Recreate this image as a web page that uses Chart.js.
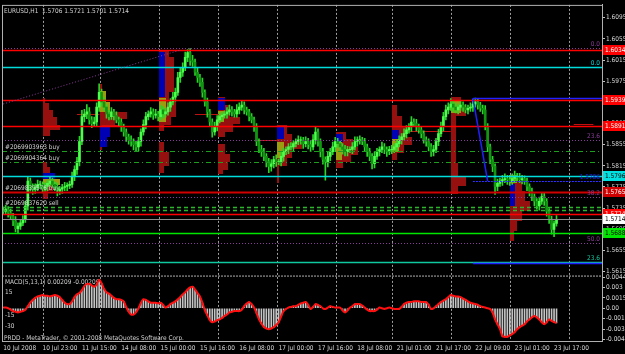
<!DOCTYPE html>
<html lang="en">
<head>
<meta charset="UTF-8">
<title>EURUSD,H1</title>
<script src="https://cdn.jsdelivr.net/npm/chart.js"></script>
<style>
  html, body { margin: 0; padding: 0; background: #000; }
  #chart { display: block; background: #000; }
</style>
</head>
<body>
<canvas id="chart" width="625" height="354"></canvas>
<script>
// ---- data ----
const barCount = 244;          // hourly slots across the window
const tickEvery = 16;
const timeLabels = ['10 Jul 2008', '10 Jul 23:00', '11 Jul 15:00', '14 Jul 08:00', '15 Jul 00:00',
  '15 Jul 16:00', '16 Jul 08:00', '17 Jul 00:00', '17 Jul 16:00', '18 Jul 08:00',
  '21 Jul 01:00', '21 Jul 17:00', '22 Jul 09:00', '23 Jul 01:00', '23 Jul 17:00'];

const firstOpen = 1.5731;
const closes = [
  1.5729, 1.5733, 1.5726, 1.5720, 1.5711, 1.5696, 1.5701, 1.5707, 1.5714, 1.5739,
  1.5786, 1.5776, 1.5771, 1.5774, 1.5780, 1.5780, 1.5773, 1.5776, 1.5782, 1.5786,
  1.5780, 1.5776, 1.5767, 1.5771, 1.5774, 1.5776, 1.5778, 1.5780, 1.5795, 1.5808,
  1.5823, 1.5861, 1.5908, 1.5913, 1.5917, 1.5902, 1.5895, 1.5898, 1.5926, 1.5954,
  1.5936, 1.5926, 1.5913, 1.5908, 1.5917, 1.5910, 1.5902, 1.5898, 1.5889, 1.5879,
  1.5870, 1.5864, 1.5861, 1.5855, 1.5851, 1.5861, 1.5879, 1.5893, 1.5908, 1.5913,
  1.5917, 1.5911, 1.5913, 1.5908, 1.5921, 1.5913, 1.5917, 1.5926, 1.5936, 1.5945,
  1.5954, 1.5982, 1.5992, 1.6001, 1.6020, 1.6029, 1.6014, 1.6011, 1.5992, 1.5982,
  1.5973, 1.5954, 1.5936, 1.5917, 1.5898, 1.5879, 1.5889, 1.5902, 1.5908, 1.5911,
  1.5913, 1.5917, 1.5921, 1.5917, 1.5913, 1.5921, 1.5926, 1.5930, 1.5921, 1.5917,
  1.5908, 1.5902, 1.5889, 1.5861, 1.5846, 1.5842, 1.5833, 1.5823, 1.5814, 1.5819,
  1.5827, 1.5823, 1.5823, 1.5833, 1.5842, 1.5846, 1.5851, 1.5851, 1.5857, 1.5861,
  1.5864, 1.5864, 1.5857, 1.5861, 1.5855, 1.5851, 1.5864, 1.5879, 1.5861, 1.5842,
  1.5827, 1.5823, 1.5833, 1.5842, 1.5851, 1.5861, 1.5857, 1.5851, 1.5846, 1.5842,
  1.5846, 1.5846, 1.5851, 1.5861, 1.5864, 1.5864, 1.5861, 1.5851, 1.5842, 1.5833,
  1.5819, 1.5833, 1.5842, 1.5846, 1.5851, 1.5846, 1.5842, 1.5846, 1.5846, 1.5851,
  1.5857, 1.5864, 1.5870, 1.5876, 1.5883, 1.5889, 1.5898, 1.5895, 1.5889, 1.5883,
  1.5876, 1.5864, 1.5861, 1.5851, 1.5842, 1.5846, 1.5861, 1.5876, 1.5889, 1.5908,
  1.5921, 1.5926, 1.5932, 1.5926, 1.5921, 1.5926, 1.5930, 1.5926, 1.5921, 1.5924,
  1.5926, 1.5932, 1.5936, 1.5930, 1.5924, 1.5921, 1.5889, 1.5851, 1.5827, 1.5814,
  1.5776, 1.5782, 1.5786, 1.5789, 1.5791, 1.5789, 1.5786, 1.5791, 1.5795, 1.5793,
  1.5789, 1.5791, 1.5786, 1.5776, 1.5767, 1.5757, 1.5748, 1.5739, 1.5748, 1.5757,
  1.5748, 1.5729, 1.5714, 1.5695, 1.5706, 1.5714
];
// wick length beyond the candle body, in pips
const upWick = [
  6,8,5,7,5,8,6,5,7,9, 9,6,5,7,8,6,5,7,5,8, 6,5,7,5,6,8,5,6,8,7, 8,10,12,9,14,8,6,9,8,16,
  6,8,5,7,8,5,7,5,6,5, 6,5,8,5,7,8,6,9,8,6, 8,6,9,5,8,6,7,8,6,9, 8,10,8,9,10,6,8,10,6,8,
  6,8,5,7,5,6,9,8,6,5, 6,8,9,6,5,10,8,9,6,5, 5,6,5,6,5,8,6,5,6,8, 6,9,5,8,6,5,6,8,6,5,
  8,6,5,9,6,8,10,10,6,5, 6,5,8,6,9,8,6,5,6,8, 6,5,8,9,6,8,5,6,5,6, 5,8,6,5,9,6,5,6,8,6,
  6,8,6,9,8,6,10,6,8,5, 6,5,6,5,6,8,6,8,9,8, 9,8,10,6,8,6,8,6,5,6, 8,9,7,6,5,6,8,6,5,6,
  5,8,6,8,9,6,8,9,10,6, 8,6,5,6,5,6,5,5,8,6, 6,5,5,6,5,7
];
const downWick = [
  6,5,8,6,9,6,8,6,5,6, 8,9,10,8,6,8,9,6,8,5, 6,8,9,6,8,6,8,6,6,8, 9,8,6,10,9,8,8,6,9,8,
  8,6,8,6,5,8,6,8,9,8, 9,8,9,10,8,8,9,6,8,6, 6,8,6,8,6,8,6,6,8,6, 8,6,9,8,6,8,9,8,6,9,
  8,9,8,10,8,10,6,8,6,8, 6,8,6,8,6,6,8,6,8,6, 8,6,9,8,6,9,8,10,12,9, 8,9,6,8,9,6,8,6,8,6,
  6,8,9,6,8,9,6,8,9,10, 9,35,10,8,6,9,8,6,9,8, 8,6,8,6,9,8,6,8,9,8, 10,8,6,8,6,8,9,6,8,6,
  8,6,8,6,8,6,9,6,8,6, 8,6,9,8,9,8,6,8,6,8, 6,8,6,8,6,8,6,8,6,8, 6,8,6,8,6,8,6,9,8,10,
  15,8,6,8,6,9,8,6,8,6, 6,8,6,8,9,8,9,6,8,6, 8,9,8,9,14,5
];
const pip = 0.0001;

// MACD(5,13,1) in units of 0.0001 (signal period 1, so line == histogram)
const macdValues = [
  1,1,0,-2,-4,-5,-6,-5,-4,-2, 3,8,12,15,17,18,19,18,18,17, 18,19,18,16,12,8,6,6,10,16,
  20,22,26,32,35,35,33,31,34,41, 36,28,23,21,18,15,13,13,12,10, 2,-5,-9,-9,-6,0,8,13,12,10,
  8,8,8,7,8,5,1,3,6,8, 10,13,16,20,23,27,30,31,27,22, 17,8,-3,-10,-17,-20,-19,-17,-16,-14,
  -11,-9,-6,-5,-4,-4,-4,-2,3,7, 9,6,1,-7,-16,-22,-27,-29,-30,-29, -27,-24,-20,-12,-4,-1,1,2,3,3,
  5,7,8,9,5,-1,2,6,5,3, 0,-1,1,3,2,1,1,1,-3,-6, -3,1,3,6,6,6,4,1,-2,-4,
  -4,-4,-2,1,0,-1,0,1,0,-1, -1,-1,2,6,8,9,9,10,10,10, 9,9,9,5,-1,0,3,6,9,11,
  13,16,19,18,17,17,16,14,12,10, 8,7,6,5,3,2,1,0,-1,-6, -16,-23,-30,-40,-41,-41,-39,-37,-34,-30,
  -27,-25,-23,-19,-16,-13,-11,-13,-16,-20, -23,-20,-16,-18,-20,-21
];
const macdUnit = 0.0001;

const priceTicks = [1.5615, 1.5655, 1.5695, 1.5735, 1.5775, 1.5815, 1.5855, 1.5895, 1.5935, 1.5975, 1.6015, 1.6055, 1.6095];
const priceMin = 1.56075, priceMax = 1.61194;
const macdTicks = [-0.00445, -0.003, -0.0015, 0, 0.0015, 0.003, 0.00445];
const macdTickText = ['-0.00445', '-0.003', '-0.0015', '0.00', '0.0015', '0.003', '0.00445'];

// separators of the terminal grid (bar positions)
const gridBars = [16.2, 39.4, 63.4, 87.3, 111.3, 135.3, 158.1, 182.1, 206.1, 230.1];

// horizontal objects: price, kind, first bar
const levelPrices = [1.6037, 1.6034, 1.6001, 1.5943, 1.5939, 1.5891, 1.5864, 1.5844, 1.5823, 1.5796,
  1.5786, 1.5765, 1.5756, 1.5738, 1.5732, 1.5724, 1.5714, 1.5688, 1.5669, 1.5634, 1.5631];
const levelKinds = ['fib', 'red', 'cyan', 'blue', 'red', 'red', 'fib', 'order', 'order', 'cyan',
  'blueDot', 'darkred', 'fib', 'stop', 'stop', 'red', 'bid', 'lime', 'fib', 'teal', 'blue'];
const levelStart = [0, 0, 0, 191, 0, 0, 0, 0, 0, 0, 191, 0, 0, 0, 0, 0, 0, 0, 0, 0, 191];

// sloped objects: [bar, price, bar, price]
const trendLines = [[0, 1.5932, 72, 1.6034], [191, 1.5943, 197, 1.5786]];
const trendKinds = ['fib', 'blue'];

// short point-of-control marks of the profiles: [bar from, bar to, price]
const pocMarks = [[30, 39, 1.5913], [40, 48, 1.5893], [78, 88, 1.5913], [102, 112, 1.5864], [165, 182, 1.5880], [232, 240, 1.5895]];

const priceTags = [1.6034, 1.5939, 1.5891, 1.5796, 1.5765, 1.5724, 1.5714, 1.5688];
const tagKinds = ['red', 'red', 'red', 'cyan', 'darkred', 'red', 'bid', 'lime'];

const fibTexts = ['0.0', '0.0', '23.6', '1.5786', '38.2', '50.0', '23.6'];
const fibPrices = [1.6037, 1.6001, 1.5864, 1.5786, 1.5756, 1.5669, 1.5634];
const fibKinds = ['fib', 'cyan', 'fib', 'blue', 'fib', 'fib', 'teal'];

const orderTexts = ['#2069903963 buy', '#2069904364 buy', '#2069839576 buy', '#2069837620 sell'];
const orderPrices = [1.5844, 1.5823, 1.5765, 1.5738];

// daily market profiles: anchor bar + rows [high, low, length in bars, zone]
const profileAnchors = [16.2, 39.4, 63.4, 87.3, 111.3, 135.3, 158.1, 182.1, 206.1];
const profileRows = [
  [[1.5943,1.5934,1,0],[1.5934,1.5921,2.5,0],[1.5921,1.5908,4,0],[1.5908,1.5893,5.5,0],[1.5893,1.5882,7,0],[1.5882,1.5871,3,0],
   [1.5823,1.5812,1.5,0],[1.5812,1.5801,3,0],[1.5801,1.5790,5,1],[1.5790,1.5778,7,2],[1.5778,1.5767,4,0],[1.5767,1.5752,2,0]],
  [[1.5970,1.5957,1,0],[1.5957,1.5936,2.5,2],[1.5936,1.5917,4,2],[1.5917,1.5904,11,0],[1.5904,1.5889,6,0],[1.5889,1.5870,4,1],[1.5870,1.5851,3,1],[1.5851,1.5845,1,0]],
  [[1.6035,1.6020,4,0],[1.6020,1.5992,6,0],[1.5992,1.5954,6,0],[1.5954,1.5936,4,0],[1.5936,1.5908,7,0],[1.5908,1.5893,5,0],[1.5893,1.5880,2,0],
   [1.6030,1.5945,2.5,1],[1.5943,1.5898,3,2],[1.5861,1.5842,2,0],[1.5842,1.5814,4,0],[1.5814,1.5801,2,0]],
  [[1.5945,1.5930,3,0],[1.5930,1.5908,5,0],[1.5908,1.5895,9,0],[1.5895,1.5879,6,0],[1.5879,1.5870,3,0],[1.5943,1.5921,3,1],[1.5919,1.5898,2.5,2],
   [1.5857,1.5838,3,0],[1.5838,1.5823,5,0],[1.5823,1.5808,4,0],[1.5808,1.5799,2,0]],
  [[1.5893,1.5876,4,0],[1.5876,1.5861,6,0],[1.5861,1.5846,10,0],[1.5846,1.5830,6,0],[1.5830,1.5814,4,0],[1.5814,1.5782,1,0],[1.5889,1.5866,3,1],[1.5861,1.5830,3,2]],
  [[1.5879,1.5866,4,0],[1.5866,1.5851,7,0],[1.5851,1.5836,9,0],[1.5836,1.5823,6,0],[1.5823,1.5810,3,0],[1.5876,1.5861,3,1],[1.5861,1.5827,2.5,2]],
  [[1.5930,1.5910,2,0],[1.5910,1.5889,4,0],[1.5889,1.5870,6,0],[1.5870,1.5855,8,0],[1.5855,1.5840,5,0],[1.5840,1.5827,2,0],[1.5883,1.5866,3,1],[1.5866,1.5842,3,2]],
  [[1.5945,1.5930,4,0],[1.5930,1.5910,6,0],[1.5910,1.5880,2,0],[1.5880,1.5820,2,0],[1.5820,1.5795,3,0],[1.5795,1.5776,6,0],[1.5776,1.5762,3,0],[1.5940,1.5915,4,2]],
  [[1.5797,1.5786,3,0],[1.5786,1.5767,5,0],[1.5767,1.5748,6,0],[1.5748,1.5729,8,0],[1.5729,1.5711,5,0],[1.5711,1.5692,3,0],[1.5692,1.5673,1.5,0],[1.5780,1.5740,2,1],[1.5797,1.5782,3,2]]
];

// ---- fonts: the terminal text is narrow, pick a narrow face if one is installed ----
function textWidth(font, text) {
  const c = document.createElement('canvas').getContext('2d');
  c.font = font;
  return c.measureText(text).width;
}
const probe = '10 Jul 23:00 #2069903963';
const narrow = ["'Liberation Sans Narrow'", "'DejaVu Sans Condensed'", "'Arial Narrow'"]
  .find(f => textWidth('20px ' + f + ', monospace', probe) !== textWidth('20px monospace', probe));
const FONT = (narrow ? narrow + ', ' : '') + "'Liberation Sans', Arial, sans-serif";
const TEXT = Math.max(6, Math.min(8.5, 10 * 35 / textWidth('10px ' + FONT, '10 Jul 23:00')));

// ---- styles ----
const lineStyles = {
  red:     { color: '#ff0000', width: 1.5, dash: [] },
  darkred: { color: '#d00000', width: 2, dash: [] },
  cyan:    { color: '#00dcdc', width: 1.5, dash: [] },
  lime:    { color: '#00e600', width: 1.5, dash: [] },
  teal:    { color: '#10c8a0', width: 1.5, dash: [] },
  blue:    { color: '#2020ff', width: 1.5, dash: [] },
  blueDot: { color: '#3030ff', width: 1, dash: [2, 1] },
  fib:     { color: '#8a3a9a', width: 1, dash: [1, 2] },
  order:   { color: '#1e9e1e', width: 1, dash: [5, 3, 1, 3] },
  stop:    { color: '#2cb82c', width: 1.5, dash: [4, 3] },
  bid:     { color: '#8c8c8c', width: 1, dash: [] },
  poc:     { color: '#c01010', width: 1, dash: [] }
};
const tagStyles = {
  red: ['#ff0000', '#ffffff'], darkred: ['#d00000', '#ffffff'], cyan: ['#00e0e0', '#000000'],
  bid: ['#ffffff', '#000000'], lime: ['#00e600', '#000000']
};
const zoneColors = ['#961010', '#0000b4', '#9c9c10'];

// ---- build datasets ----
const opens = closes.map((c, i) => i === 0 ? firstOpen : closes[i - 1]);
const bodies = closes.map((c, i) => {
  const lo = Math.min(opens[i], c), hi = Math.max(opens[i], c);
  return hi - lo < 0.00005 ? [lo - 0.00003, hi + 0.00003] : [lo, hi];
});
const wicks = closes.map((c, i) => [Math.min(opens[i], c) - downWick[i] * pip, Math.max(opens[i], c) + upWick[i] * pip]);
const bodyColors = closes.map((c, i) => c >= opens[i] ? '#4cff4c' : '#129612');
const macdData = macdValues.map(v => v * macdUnit);
const categories = Array.from({ length: barCount }, (_, i) => i);

const overlay = {
  id: 'overlay',
  beforeDatasetsDraw(chart) {
    const { ctx } = chart;
    const x = chart.scales.x, y = chart.scales.y, m = chart.scales.m;
    ctx.save();
    // vertical dashed grid over both panels
    ctx.strokeStyle = '#a0a0a0';
    ctx.lineWidth = 1;
    ctx.setLineDash([2, 2]);
    gridBars.forEach(g => {
      const px = Math.round(x.getPixelForValue(g)) + 0.5;
      ctx.beginPath(); ctx.moveTo(px, y.top); ctx.lineTo(px, m.bottom); ctx.stroke();
    });
    ctx.setLineDash([]);
    // macd caption sits under the histogram
    ctx.font = TEXT + 'px ' + FONT;
    ctx.fillStyle = '#d0d0d0';
    ctx.textBaseline = 'middle';
    ctx.fillText('MACD(5,13,1) 0.00209 -0.00209', 5, m.top + 7);
    // market profiles
    ctx.beginPath();
    ctx.rect(x.left, y.top, x.right - x.left, y.bottom - y.top);
    ctx.clip();
    profileAnchors.forEach((a, k) => {
      const x0 = x.getPixelForValue(a);
      profileRows[k].forEach(([hi, lo, bars, zone]) => {
        const x1 = x.getPixelForValue(a + bars);
        const t = Math.round(y.getPixelForValue(hi)), b = Math.round(y.getPixelForValue(lo));
        ctx.fillStyle = zoneColors[zone];
        ctx.fillRect(Math.round(x0), t, Math.max(1, Math.round(x1 - x0)), b - t);
      });
    });
    const poc = lineStyles.poc;
    ctx.strokeStyle = poc.color; ctx.lineWidth = poc.width;
    pocMarks.forEach(([b0, b1, p]) => {
      const py = Math.round(y.getPixelForValue(p)) + 0.5;
      ctx.beginPath(); ctx.moveTo(x.getPixelForValue(b0), py); ctx.lineTo(x.getPixelForValue(b1), py); ctx.stroke();
    });
    ctx.restore();
  },
  afterDatasetsDraw(chart) {
    const { ctx } = chart;
    const x = chart.scales.x, y = chart.scales.y;
    ctx.save();
    ctx.beginPath();
    ctx.rect(x.left, y.top, x.right - x.left, y.bottom - y.top);
    ctx.clip();
    levelPrices.forEach((p, k) => {
      const st = lineStyles[levelKinds[k]];
      const py = Math.round(y.getPixelForValue(p)) + 0.5;
      const x0 = levelStart[k] ? x.getPixelForValue(levelStart[k]) : x.left;
      ctx.strokeStyle = st.color; ctx.lineWidth = st.width; ctx.setLineDash(st.dash);
      ctx.beginPath(); ctx.moveTo(x0, py); ctx.lineTo(x.right, py); ctx.stroke();
    });
    trendLines.forEach(([b0, p0, b1, p1], k) => {
      const st = lineStyles[trendKinds[k]];
      ctx.strokeStyle = st.color; ctx.lineWidth = st.width; ctx.setLineDash(st.dash);
      ctx.beginPath();
      ctx.moveTo(x.getPixelForValue(b0), y.getPixelForValue(p0));
      ctx.lineTo(x.getPixelForValue(b1), y.getPixelForValue(p1));
      ctx.stroke();
    });
    ctx.setLineDash([]);
    // texts inside the price panel
    ctx.font = TEXT + 'px ' + FONT;
    ctx.textBaseline = 'alphabetic';
    ctx.textAlign = 'right';
    fibTexts.forEach((t, k) => {
      ctx.fillStyle = lineStyles[fibKinds[k]].color;
      ctx.fillText(t, x.right - 2, y.getPixelForValue(fibPrices[k]) - 2);
    });
    ctx.textAlign = 'left';
    ctx.fillStyle = '#d0d0d0';
    orderTexts.forEach((t, k) => ctx.fillText(t, 5, y.getPixelForValue(orderPrices[k]) - 2));
    ctx.fillText('EURUSD,H1  1.5706 1.5721 1.5701 1.5714', 4, y.top + 8);
    ctx.restore();
  },
  afterDraw(chart) {
    const { ctx } = chart;
    const x = chart.scales.x, y = chart.scales.y, m = chart.scales.m;
    ctx.save();
    // frame and panel separator
    ctx.strokeStyle = '#b0b0b0';
    ctx.lineWidth = 1;
    ctx.strokeRect(x.left + 0.5, y.top + 0.5, x.right - x.left, m.bottom - y.top);
    ctx.setLineDash([2, 1]);
    ctx.beginPath(); ctx.moveTo(x.left, m.top + 0.5); ctx.lineTo(x.right, m.top + 0.5); ctx.stroke();
    ctx.setLineDash([]);
    // price tags on the axis
    ctx.font = TEXT + 'px ' + FONT;
    ctx.textBaseline = 'middle';
    priceTags.forEach((p, k) => {
      const [bg, fg] = tagStyles[tagKinds[k]];
      const py = Math.round(y.getPixelForValue(p));
      ctx.fillStyle = bg;
      ctx.fillRect(x.right + 1, py - 5, 24, 10);
      ctx.fillStyle = fg;
      ctx.fillText(p.toFixed(4), x.right + 3, py);
    });
    // macd panel captions
    ctx.fillStyle = '#d0d0d0';
    ctx.fillText('15', 5, m.getPixelForValue(0.0023));
    ctx.fillText('-15', 5, m.getPixelForValue(-0.0010));
    ctx.fillText('-30', 5, m.getPixelForValue(-0.0026));
    ctx.textBaseline = 'alphabetic';
    ctx.fillText('PRDD - MetaTrader, \u00a9 2001-2008 MetaQuotes Software Corp.', 4, m.bottom - 1);
    ctx.restore();
  }
};

new Chart(document.getElementById('chart'), {
  data: {
    labels: categories,
    datasets: [
      { type: 'bar', data: wicks, yAxisID: 'y', backgroundColor: '#2ad42a', barThickness: 1, grouped: false, order: 3 },
      { type: 'bar', data: bodies, yAxisID: 'y', backgroundColor: bodyColors, barThickness: 2, grouped: false, order: 2 },
      { type: 'bar', data: macdData, yAxisID: 'm', backgroundColor: '#c4c4c4', barThickness: 1, grouped: false, order: 4 },
      { type: 'line', data: macdData, yAxisID: 'm', borderColor: '#ff1010', borderWidth: 2, pointRadius: 0, tension: 0.3, order: 1 }
    ]
  },
  options: {
    responsive: false,
    animation: false,
    events: [],
    layout: { padding: { left: 2, top: 2, right: 0, bottom: 0 } },
    plugins: { legend: { display: false }, tooltip: { enabled: false } },
    scales: {
      x: {
        type: 'category',
        offset: true,
        grid: { display: false, drawTicks: false },
        border: { display: false },
        afterFit(s) { s.height = 13; },
        ticks: {
          autoSkip: false, maxRotation: 0, minRotation: 0, align: 'start', padding: 3,
          color: '#d8d8d8', font: { size: TEXT, family: FONT },
          callback: (v, i) => (i % tickEvery === 0 && timeLabels[i / tickEvery]) ? timeLabels[i / tickEvery] : ''
        }
      },
      y: {
        position: 'right', stack: 'panels', stackWeight: 273,
        min: priceMin, max: priceMax,
        afterBuildTicks(s) { s.ticks = priceTicks.map(v => ({ value: v })); },
        afterFit(s) { s.width = 23; },
        grid: { drawOnChartArea: false, tickLength: 3, color: '#c0c0c0' },
        border: { display: true, color: '#c0c0c0' },
        ticks: { autoSkip: false, padding: 1, color: '#d8d8d8', font: { size: TEXT, family: FONT }, callback: v => v.toFixed(4) }
      },
      m: {
        position: 'right', stack: 'panels', stackWeight: 66,
        min: -0.0047, max: 0.0047,
        afterBuildTicks(s) { s.ticks = macdTicks.map(v => ({ value: v })); },
        afterFit(s) { s.width = 23; },
        grid: { drawOnChartArea: false, tickLength: 3, color: '#c0c0c0' },
        border: { display: true, color: '#c0c0c0' },
        ticks: { autoSkip: false, padding: 1, color: '#d8d8d8', font: { size: TEXT, family: FONT }, callback: (v, i) => macdTickText[i] }
      }
    }
  },
  plugins: [overlay]
});
</script>
</body>
</html>
